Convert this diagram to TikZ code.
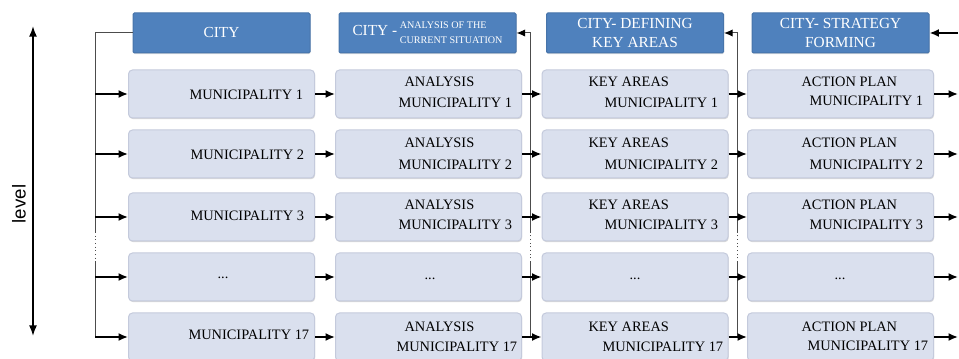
\documentclass[tikz,border=0pt]{standalone}
\usepackage{fontspec}
\setmainfont{Liberation Serif}
\newfontfamily\levelfont{Liberation Sans}
\usetikzlibrary{arrows.meta,shadows}

\definecolor{headblue}{RGB}{79,129,189}
\definecolor{rowfill}{RGB}{218,224,238}
\definecolor{rowdraw}{RGB}{196,202,220}

\tikzset{every picture/.style={line width=0.75pt},
  headbox/.style={fill=headblue, draw=headblue!90!black, rounded corners=1pt, text=white,
    minimum width=132.75pt, minimum height=30pt, inner sep=0pt, align=center,
    font=\fontsize{11.5}{14}\selectfont,
    drop shadow={shadow xshift=0.5pt, shadow yshift=-0.8pt, opacity=0.25}},
  rowbox/.style={fill=rowfill, draw=rowdraw, rounded corners=3pt,
    minimum width=139.5pt, minimum height=36pt, inner sep=0pt,
    drop shadow={shadow xshift=0.5pt, shadow yshift=-0.9pt, opacity=0.3}},
  rowtxt/.style={inner sep=0.75pt, font=\fontsize{10.8}{13}\selectfont},
  conn/.style={line width=1.6pt, -{Latex[length=7pt,width=6pt]}},
  vline/.style={line width=0.75pt, color=black!70},
  uptip/.style={-{Latex[length=6.5pt,width=5.5pt,color=black]}},
  levelarrow/.style={line width=1.2pt, {Latex[length=8pt,width=6pt]}-{Latex[length=8pt,width=6pt]}}
}

\begin{document}
\begin{tikzpicture}[x=0.75pt,y=0.75pt,yscale=-1,xscale=1]
\useasboundingbox (0,0) rectangle (959,359);

% Level axis
\coordinate (lv1) at (33,26);
\coordinate (lv2) at (33,336);
\draw [levelarrow] (lv1) -- (lv2);
\node [rotate=90, inner sep=0.75pt, font=\levelfont\fontsize{14}{16}\selectfont] (lvl) at (19,204) {level};

% Header boxes
\node [headbox] (h1) at (221.5,33) {CITY};
\node [headbox] (h2) at (427.5,33) {CITY -\,{\fontsize{7.6}{11.5}\selectfont\begin{tabular}[c]{@{}l@{}}ANALYSIS OF THE\\CURRENT SITUATION\end{tabular}}};
\node [headbox] (h3) at (635,33) {CITY- DEFINING\\KEY AREAS};
\node [headbox] (h4) at (840.5,33) {CITY- STRATEGY\\FORMING};

% Row boxes: municipalities
\node [rowbox] (m11) at (221.5,94) {};
\node [rowbox] (m12) at (221.5,154) {};
\node [rowbox] (m13) at (221.5,217) {};
\node [rowbox] (m14) at (221.5,277) {};
\node [rowbox] (m15) at (221.5,337) {};
% Row boxes: analysis
\node [rowbox] (m21) at (428.5,94) {};
\node [rowbox] (m22) at (428.5,154) {};
\node [rowbox] (m23) at (428.5,217) {};
\node [rowbox] (m24) at (428.5,277) {};
\node [rowbox] (m25) at (428.5,337) {};
% Row boxes: key areas
\node [rowbox] (m31) at (635,94) {};
\node [rowbox] (m32) at (635,154) {};
\node [rowbox] (m33) at (635,217) {};
\node [rowbox] (m34) at (635,277) {};
\node [rowbox] (m35) at (635,337) {};
% Row boxes: action plan
\node [rowbox] (m41) at (840.5,94) {};
\node [rowbox] (m42) at (840.5,154) {};
\node [rowbox] (m43) at (840.5,217) {};
\node [rowbox] (m44) at (840.5,277) {};
\node [rowbox] (m45) at (840.5,337) {};

% Text Node
\node [rowtxt, anchor=west] (t11) at (188,95) {MUNICIPALITY 1};
\node [rowtxt, anchor=west] (t12) at (189,155) {MUNICIPALITY 2};
\node [rowtxt, anchor=west] (t13) at (189,216) {MUNICIPALITY 3};
\node [rowtxt] (t14) at (223,278) {...};
\node [rowtxt, anchor=west] (t15) at (187,335) {MUNICIPALITY 17};
% Text Node
\node [rowtxt, anchor=west] (t21a) at (403,82) {ANALYSIS};
\node [rowtxt, anchor=west] (t21b) at (397,103) {MUNICIPALITY 1};
\node [rowtxt, anchor=west] (t22a) at (403,143) {ANALYSIS};
\node [rowtxt, anchor=west] (t22b) at (397,165) {MUNICIPALITY 2};
\node [rowtxt, anchor=west] (t23a) at (403,205) {ANALYSIS};
\node [rowtxt, anchor=west] (t23b) at (397,225) {MUNICIPALITY 3};
\node [rowtxt] (t24) at (430,279) {...};
\node [rowtxt, anchor=west] (t25a) at (403,327) {ANALYSIS};
\node [rowtxt, anchor=west] (t25b) at (395,347) {MUNICIPALITY 17};
% Text Node
\node [rowtxt, anchor=west] (t31a) at (587,82) {KEY AREAS};
\node [rowtxt, anchor=west] (t31b) at (603,103) {MUNICIPALITY 1};
\node [rowtxt, anchor=west] (t32a) at (587,143) {KEY AREAS};
\node [rowtxt, anchor=west] (t32b) at (603,165) {MUNICIPALITY 2};
\node [rowtxt, anchor=west] (t33a) at (587,205) {KEY AREAS};
\node [rowtxt, anchor=west] (t33b) at (603,225) {MUNICIPALITY 3};
\node [rowtxt] (t34) at (635,279) {...};
\node [rowtxt, anchor=west] (t35a) at (587,327) {KEY AREAS};
\node [rowtxt, anchor=west] (t35b) at (601,347) {MUNICIPALITY 17};
% Text Node
\node [rowtxt, anchor=west] (t41a) at (800,82) {ACTION PLAN};
\node [rowtxt, anchor=west] (t41b) at (808,101) {MUNICIPALITY 1};
\node [rowtxt, anchor=west] (t42a) at (800,143) {ACTION PLAN};
\node [rowtxt, anchor=west] (t42b) at (808,165) {MUNICIPALITY 2};
\node [rowtxt, anchor=west] (t43a) at (800,205) {ACTION PLAN};
\node [rowtxt, anchor=west] (t43b) at (808,225) {MUNICIPALITY 3};
\node [rowtxt] (t44) at (840,279) {...};
\node [rowtxt, anchor=west] (t45a) at (800,327) {ACTION PLAN};
\node [rowtxt, anchor=west] (t45b) at (806,346) {MUNICIPALITY 17};

% Bracket from CITY to the municipalities
\coordinate (v1t) at (95,33);
\coordinate (v1a) at (95,232);
\coordinate (v1b) at (95,262);
\draw [vline] (h1.west) -- (v1t) -- (v1a);
\draw [vline, dotted] (v1a) -- (v1b);
\draw [vline] (v1b) -- (m15.west -| v1t);
\draw [conn] (m11.west -| v1t) -- (m11.west);
\draw [conn] (m12.west -| v1t) -- (m12.west);
\draw [conn] (m13.west -| v1t) -- (m13.west);
\draw [conn] (m14.west -| v1t) -- (m14.west);
\draw [conn] (m15.west -| v1t) -- (m15.west);

% Municipalities to analysis
\draw [conn] (m11.east) -- (m21.west);
\draw [conn] (m12.east) -- (m22.west);
\draw [conn] (m13.east) -- (m23.west);
\draw [conn] (m14.east) -- (m24.west);
\draw [conn] (m15.east) -- (m25.west);

% Analysis back up to its header
\coordinate (v2a) at (530,232);
\coordinate (v2b) at (530,262);
\draw [vline] (m25.east -| v2a) -- (v2b);
\draw [vline, dotted] (v2b) -- (v2a);
\draw [vline, uptip] (v2a) |- (h2.east);

% Analysis to key areas
\draw [conn] (m21.east) -- (m31.west);
\draw [conn] (m22.east) -- (m32.west);
\draw [conn] (m23.east) -- (m33.west);
\draw [conn] (m24.east) -- (m34.west);
\draw [conn] (m25.east) -- (m35.west);

% Key areas back up to its header
\coordinate (v3a) at (737,232);
\coordinate (v3b) at (737,262);
\draw [vline] (m35.east -| v3a) -- (v3b);
\draw [vline, dotted] (v3b) -- (v3a);
\draw [vline, uptip] (v3a) |- (h3.east);

% Key areas to action plan
\draw [conn] (m31.east) -- (m41.west);
\draw [conn] (m32.east) -- (m42.west);
\draw [conn] (m33.east) -- (m43.west);
\draw [conn] (m34.east) -- (m44.west);
\draw [conn] (m35.east) -- (m45.west);

% Action plan out to the right edge
\coordinate (v4t) at (958,33);
\draw [conn] (v4t) -- (h4.east);
\draw [conn] (m41.east) -- (m41.east -| v4t);
\draw [conn] (m42.east) -- (m42.east -| v4t);
\draw [conn] (m43.east) -- (m43.east -| v4t);
\draw [conn] (m44.east) -- (m44.east -| v4t);
\draw [conn] (m45.east) -- (m45.east -| v4t);

\end{tikzpicture}
\end{document}
